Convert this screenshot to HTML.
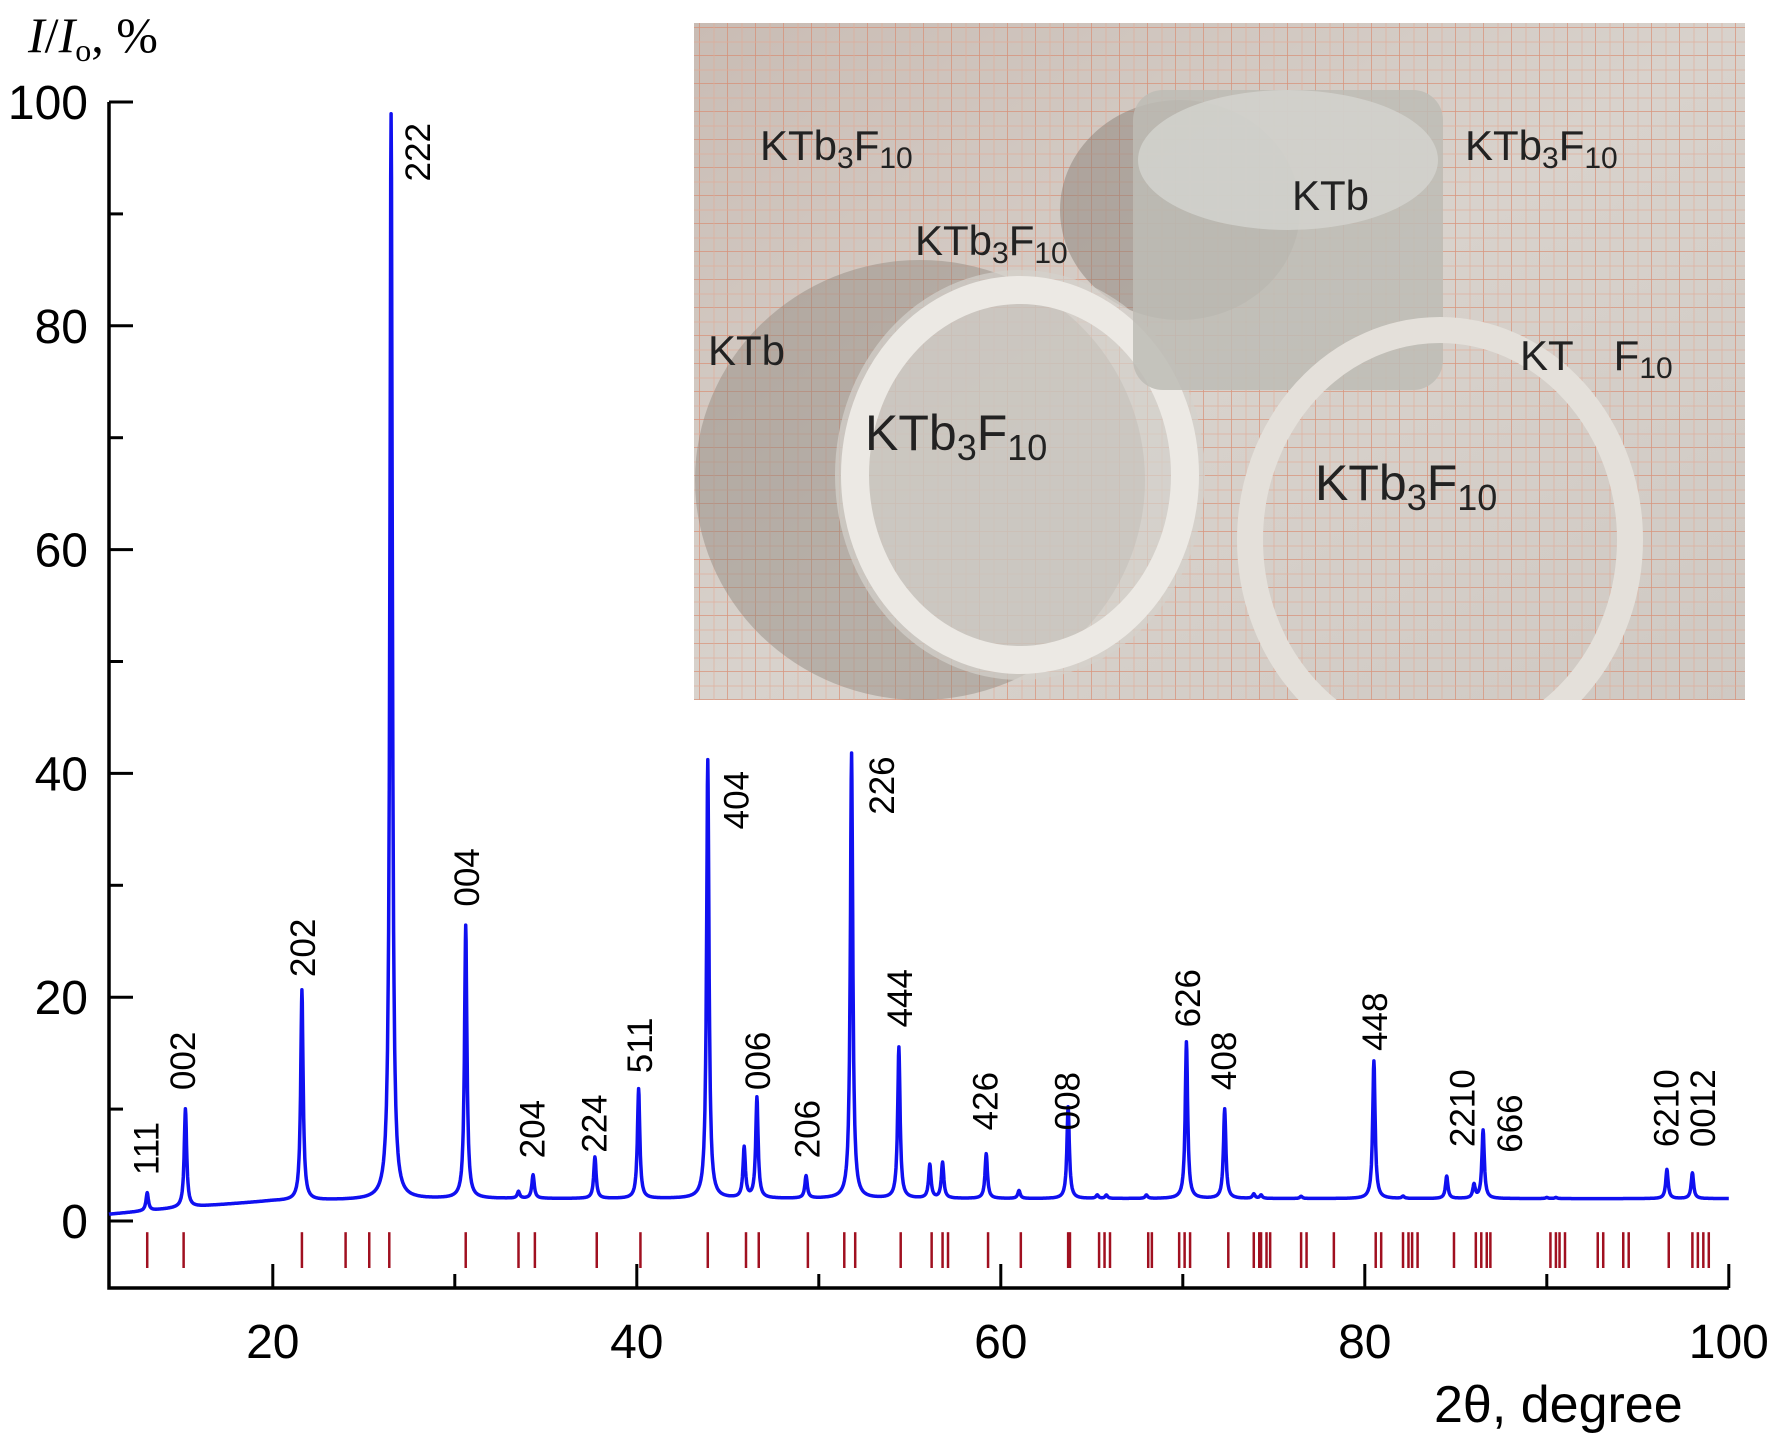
<!DOCTYPE html>
<html><head><meta charset="utf-8"><style>
html,body{margin:0;padding:0;background:#fff}
svg{display:block;font-family:"Liberation Sans",sans-serif}
</style></head><body>
<svg id="chart" width="1777" height="1439" viewBox="0 0 1777 1439" xmlns="http://www.w3.org/2000/svg">
<defs>
<linearGradient id="paper" x1="0" y1="0" x2="1" y2="1">
<stop offset="0" stop-color="#c9bcb4"/><stop offset="0.5" stop-color="#d8d2cc"/><stop offset="1" stop-color="#cfc9c3"/>
</linearGradient>
<pattern id="grid" width="28" height="28" patternUnits="userSpaceOnUse">
<path d="M28 0V28M0 28H28" stroke="#d9866a" stroke-width="1.5" fill="none"/>
<path d="M14 0V28M0 14H28" stroke="#e2a892" stroke-width="0.7" fill="none"/>
</pattern>
<clipPath id="insetClip"><rect x="694" y="23" width="1051" height="677"/></clipPath>
</defs>
<g id="inset" clip-path="url(#insetClip)">
<rect x="694" y="23" width="1051" height="677" fill="url(#paper)"/>
<rect x="694" y="23" width="1051" height="677" fill="url(#grid)" opacity="0.8"/>
<ellipse cx="1180" cy="210" rx="120" ry="110" fill="#8a7f78" opacity="0.5"/>
<ellipse cx="920" cy="480" rx="225" ry="220" fill="#8f847d" opacity="0.45"/>
<ellipse cx="1020" cy="475" rx="185" ry="205" fill="#d4d1cc" opacity="0.7"/>
<ellipse cx="1020" cy="475" rx="165" ry="185" fill="none" stroke="#ece9e4" stroke-width="28"/>
<rect x="1133" y="90" width="310" height="300" rx="30" fill="#bdbcb5" opacity="0.85"/>
<ellipse cx="1288" cy="160" rx="150" ry="70" fill="#d5d4cf" opacity="0.8"/>
<ellipse cx="1440" cy="540" rx="190" ry="210" fill="none" stroke="#e4e0da" stroke-width="26"/>
<g font-size="42" fill="#222">
<text x="760" y="160">KTb<tspan font-size="30" dy="8">3</tspan><tspan dy="-8">F</tspan><tspan font-size="30" dy="8">10</tspan></text>
<text x="1465" y="160">KTb<tspan font-size="30" dy="8">3</tspan><tspan dy="-8">F</tspan><tspan font-size="30" dy="8">10</tspan></text>
<text x="915" y="255">KTb<tspan font-size="30" dy="8">3</tspan><tspan dy="-8">F</tspan><tspan font-size="30" dy="8">10</tspan></text>
<text x="1292" y="210">KTb</text>
<text x="708" y="365">KTb</text>
<text x="1520" y="370">KT<tspan dx="40">F</tspan><tspan font-size="30" dy="8">10</tspan></text>
<text x="865" y="450" font-size="50">KTb<tspan font-size="36" dy="10">3</tspan><tspan dy="-10">F</tspan><tspan font-size="36" dy="10">10</tspan></text>
<text x="1315" y="500" font-size="50">KTb<tspan font-size="36" dy="10">3</tspan><tspan dy="-10">F</tspan><tspan font-size="36" dy="10">10</tspan></text>
</g>
</g>
<g id="axes"></g>
<g id="refs"></g>
<path id="curve" fill="none" stroke="#1010f0" stroke-width="3.5" stroke-linejoin="round"/>
<g id="labels"></g>
<text x="28" y="52" font-family="Liberation Serif,serif" font-size="50"><tspan font-style="italic">I</tspan>/<tspan font-style="italic">I</tspan><tspan font-size="32" dy="9">o</tspan><tspan dy="-9">, %</tspan></text>
<text x="1434" y="1422" font-size="52">2θ, degree</text>
</svg>
<script>
const peakPos=[13.1,15.2,21.6,26.5,30.6,33.5,34.3,37.7,40.1,43.9,45.9,46.6,49.3,51.8,54.4,56.1,56.8,59.2,61.0,63.7,65.3,65.8,68.0,70.2,72.3,73.9,74.3,76.5,80.5,82.1,84.5,86.0,86.5,90.0,90.5,96.6,98.0];
const peakH=[1.6,8.8,18.8,97,24.4,0.6,2.1,3.7,9.8,39.2,4.5,9,2,39.8,13.5,3,3.2,4,0.7,8.2,0.3,0.3,0.3,14,8,0.4,0.3,0.2,12.3,0.2,2,1.2,6.1,0.1,0.1,2.6,2.3];
const baseX=[11,15,20,30,100];
const baseY=[0.6,1.2,1.8,2,2];
const labelText=["111","002","202","222","004","204","224","511","404","006","206","226","444","426","008","626","408","448","2210","666","6210","0012"];
const labelX=[13.1,15.1,21.7,28.0,30.7,34.3,37.7,40.2,45.5,46.7,49.4,53.5,54.5,59.2,63.7,70.3,72.3,80.6,85.4,88.0,96.6,98.6];
const labelY=[4.1,11.7,21.8,92.9,28.1,5.6,6.1,13.2,35,11.7,5.6,36.3,17.3,8.1,8.1,17.3,11.7,15.2,6.6,6.1,6.6,6.6];
const refPos=[13.1,15.1,21.6,24.0,25.3,26.4,30.6,33.5,34.4,37.8,40.2,43.9,46.0,46.7,49.4,51.4,52.0,54.5,56.2,56.8,57.1,59.3,61.1,63.7,63.8,65.4,65.7,66.0,68.1,68.3,69.8,70.1,70.4,72.5,73.9,74.2,74.3,74.6,74.8,76.5,76.8,78.3,80.6,80.9,82.1,82.4,82.6,82.9,84.9,86.1,86.4,86.7,86.9,90.2,90.5,90.7,91.0,92.8,93.1,94.2,94.5,96.7,98.0,98.3,98.6,98.9];
const yTicks=[0,20,40,60,80,100];
const xTicks=[20,40,60,80,100];
const NS="http://www.w3.org/2000/svg";
const X=d=>109+(d-11)*18.2, Y=v=>1221-v*11.19;
function mk(tag,attrs,parent){const e=document.createElementNS(NS,tag);for(const k in attrs)e.setAttribute(k,attrs[k]);parent.appendChild(e);return e;}
const ax=document.getElementById('axes');
let a=mk('path',{d:`M${X(11)} ${Y(100)}V1288H${X(100)}`,stroke:'#000','stroke-width':3.5,fill:'none'},ax);


for(let v=0;v<=100;v+=10){const t=mk('line',{x1:X(11),x2:X(11)+(v%20===0?24:14),y1:Y(v),y2:Y(v),stroke:'#000','stroke-width':3},ax);

}
yTicks.forEach(v=>{const t=mk('text',{x:88,y:Y(v)+17,'text-anchor':'end','font-size':48},ax);t.textContent=v;

});
for(let d=20;d<=100;d+=10){const t=mk('line',{x1:X(d),x2:X(d),y1:1288,y2:1288-(d%20===0?24:14),stroke:'#000','stroke-width':3},ax);

}
xTicks.forEach(d=>{const t=mk('text',{x:X(d),y:1358,'text-anchor':'middle','font-size':48},ax);t.textContent=d;

});
const rg=document.getElementById('refs');
refPos.forEach(d=>{const r=mk('line',{x1:X(d),x2:X(d),y1:Y(-1),y2:Y(-4.2),stroke:'#a01020','stroke-width':2.5},rg);

});
function base(x){for(let i=1;i<baseX.length;i++){if(x<=baseX[i]){const t=(x-baseX[i-1])/(baseX[i]-baseX[i-1]);return baseY[i-1]+t*(baseY[i]-baseY[i-1]);}}return baseY[baseY.length-1];}
let d='';
for(let x=11;x<=100.001;x+=0.02){let y=base(x);peakPos.forEach((p,i)=>{const u=(x-p)/0.08;y+=peakH[i]/(1+u*u);});
d+=(d?'L':'M')+X(x).toFixed(1)+' '+Y(y).toFixed(1);}
document.getElementById('curve').setAttribute('d',d);
const lg=document.getElementById('labels');
labelText.forEach((s,i)=>{const x=X(labelX[i]),y=Y(labelY[i]);
const t=mk('text',{x:x,y:y,transform:`rotate(-90 ${x} ${y})`,'font-size':35,'dominant-baseline':'central'},lg);t.textContent=s;

});
</script>
</body></html>
